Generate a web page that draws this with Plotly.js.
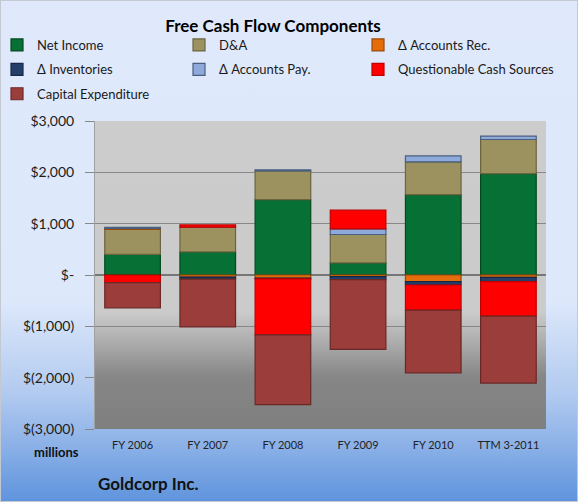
<!DOCTYPE html>
<html>
<head>
<meta charset="utf-8">
<script src="https://cdn.plot.ly/plotly-3.0.1.min.js"></script>
<style>
  html, body { margin: 0; padding: 0; }
  #wrap {
    position: relative; width: 578px; height: 502px; box-sizing: border-box;
    border: 1px solid #c4c8d0;
    background: linear-gradient(to bottom, #dfe9fb 0%, #dde8fb 60%, #b3cbf0 78%, #8fb3e8 88%, #5f94dd 100%);
    overflow: hidden;
  }
  #plotbg {
    position: absolute; left: 94px; top: 120px; width: 451px; height: 308px;
    background: linear-gradient(to bottom, #cccccc 0%, #cbcbcb 62%, #acacac 72%, #868686 83%, #7f7f7f 100%);
  }
  #chart { position: absolute; left: 0; top: 0; width: 578px; height: 502px; }
</style>
</head>
<body>
<div id="wrap">
  <div id="plotbg"></div>
  <div id="chart"></div>
</div>
<script>
// ---- data (US$ millions) ----
const categories = ["FY 2006", "FY 2007", "FY 2008", "FY 2009", "FY 2010", "TTM 3-2011"];
const netIncome       = [400, 450, 1470, 235, 1565, 1975];
const depAmort        = [490, 480, 560, 554, 640, 665];
const accountsRec     = [20, -40, -60, -30, -130, -45];
const inventories     = [0, -40, -15, -60, -65, -85];
const accountsPay     = [20, 0, 20, 110, 115, 65];
const questionable    = [-150, 45, -1090, 364, -490, -670];
const capex           = [-490, -930, -1360, -1360, -1220, -1305];
const yTickVals  = [3000, 2000, 1000, 0, -1000, -2000, -3000];
const yTickText  = ["$3,000", "$2,000", "$1,000", "$-", "$(1,000)", "$(2,000)", "$(3,000)"];

const FONT = "Lato, 'Open Sans', 'DejaVu Sans', sans-serif";

function bar(name, y, color, lineColor, legend) {
  return {
    type: "bar", name: name, x: categories, y: y,
    marker: { color: color, line: { color: lineColor, width: 1.2 } },
    legend: legend, legendgroup: name,
    hoverinfo: "name+y"
  };
}

const traces = [
  bar("Net Income", netIncome, "#077034", "#034a21", "legend"),
  bar("D&A", depAmort, "#9c9260", "#6b6440", "legend2"),
  bar("Δ Accounts Rec.", accountsRec, "#e46c0a", "#9c4a08", "legend3"),
  bar("Δ Inventories", inventories, "#243f6a", "#17294a", "legend"),
  bar("Δ Accounts Pay.", accountsPay, "#8eaadb", "#4a5f80", "legend2"),
  bar("Questionable Cash Sources", questionable, "#ff0000", "#c00000", "legend3"),
  bar("Capital Expenditure", capex, "#9b3d3a", "#6a2826", "legend")
];

function leg(xpx) {
  return {
    xref: "paper", yref: "container",
    x: (xpx - 94) / 451, y: 1 - 29 / 502, xanchor: "left", yanchor: "top",
    orientation: "v", bgcolor: "rgba(0,0,0,0)", borderwidth: 0,
    font: { family: FONT, size: 13, color: "#1a1a1a" },
    tracegroupgap: 4.5, traceorder: "grouped",
    itemwidth: 30
  };
}

const layout = {
  width: 578, height: 502,
  margin: { l: 94, r: 33, t: 120, b: 74, pad: 0, autoexpand: false },
  paper_bgcolor: "rgba(0,0,0,0)",
  plot_bgcolor: "rgba(0,0,0,0)",
  barmode: "relative",
  bargap: 0.26,
  title: {
    text: "<b>Free Cash Flow Components</b>",
    font: { family: FONT, size: 17, color: "#000" },
    x: 272 / 578, xanchor: "center", xref: "container",
    y: 1 - 25 / 502, yanchor: "middle", yref: "container"
  },
  font: { family: FONT, size: 13, color: "#1a1a1a" },
  showlegend: true,
  legend: leg(-4),
  legend2: leg(178),
  legend3: leg(357),
  xaxis: {
    type: "category",
    showgrid: false, showline: false, zeroline: false,
    ticks: "", tickfont: { family: FONT, size: 11, color: "#222" },
    ticklabelstandoff: 8
  },
  yaxis: {
    range: [-3000, 3000], tickmode: "array",
    tickvals: yTickVals, ticktext: yTickText,
    showgrid: true, gridcolor: "#888888", gridwidth: 1,
    zeroline: true, zerolinecolor: "#777777", zerolinewidth: 1.2,
    showline: true, linecolor: "#a0a0a0", linewidth: 1,
    ticks: "outside", ticklen: 9, tickcolor: "#888888",
    tickfont: { family: FONT, size: 14, color: "#1a1a1a" },
    ticklabelstandoff: 8
  },
  annotations: [
    { text: "<b>millions</b>", xref: "paper", yref: "paper",
      x: (55 - 94) / 451, y: -(451 - 428) / 308, xanchor: "center", yanchor: "middle",
      showarrow: false, font: { family: FONT, size: 13, color: "#111" } },
    { text: "<b>Goldcorp Inc.</b>", xref: "paper", yref: "paper",
      x: (147 - 94) / 451, y: -(482 - 428) / 308, xanchor: "center", yanchor: "middle",
      showarrow: false, font: { family: FONT, size: 17, color: "#111" } }
  ]
};

Plotly.newPlot("chart", traces, layout, { displayModeBar: false, staticPlot: true });
</script>
</body>
</html>
